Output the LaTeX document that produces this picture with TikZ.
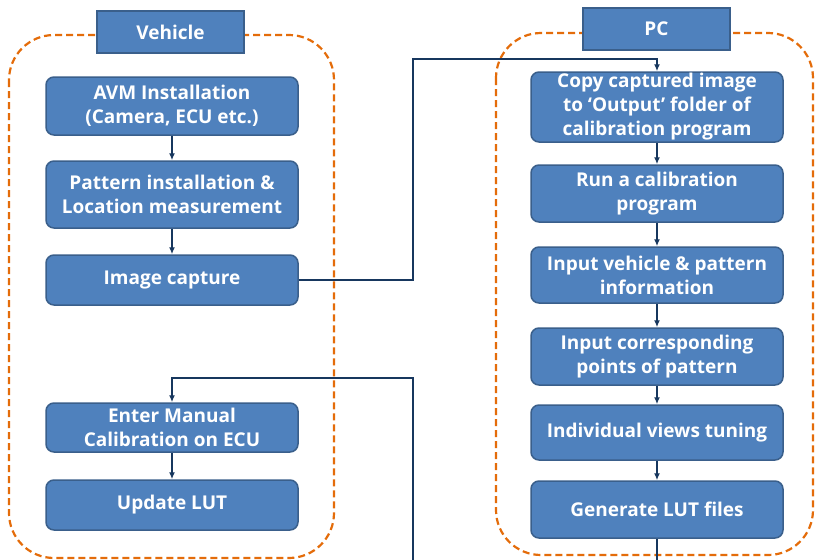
\documentclass[tikz,border=0pt]{standalone}
\usepackage{fontspec}
\setmainfont{Open Sans}
\usetikzlibrary{arrows.meta}
\definecolor{boxfill}{HTML}{4F81BD}
\definecolor{boxline}{HTML}{3A5F8B}
\definecolor{dashor}{HTML}{E46C0A}
\definecolor{connc}{HTML}{17375E}
\begin{document}
\begin{tikzpicture}[x=1pt,y=-1pt,
  stepbox/.style={rounded corners=8pt, fill=boxfill, draw=boxline, line width=1.5pt,
    text=white, align=center, inner sep=0pt, minimum width=252pt,
    font=\fontsize{19}{24}\selectfont\bfseries},
  headbox/.style={fill=boxfill, draw=boxline, line width=1.5pt, text=white,
    inner sep=0pt, minimum width=147pt, minimum height=42pt,
    font=\fontsize{19}{24}\selectfont\bfseries},
  group/.style={draw=dashor, line width=2.2pt, dash pattern=on 7pt off 4pt, rounded corners=45pt},
  conn/.style={draw=connc, line width=1.8pt, -{Latex[length=7pt,width=6pt]}},
  plain/.style={draw=connc, line width=1.8pt}]
\useasboundingbox (0,0) rectangle (815,560);
\fill[white] (0,0) rectangle (815,560);
% containers
\draw[group] (9,35) rectangle (334,558);
\draw[group] (496,33) rectangle (813,555);
% headers
\node[headbox] (veh) at (170.5,32) {Vehicle};
\node[headbox] (pc) at (656.5,29) {PC};
% left boxes
\node[stepbox, minimum height=58pt] (avm) at (172,106) {AVM Installation\\(Camera, ECU etc.)};
\node[stepbox, minimum height=67pt] (pat) at (172,194.5) {Pattern installation \&\\Location measurement};
\node[stepbox, minimum height=50pt] (cap) at (172,280) {Image capture};
\node[stepbox, minimum height=49pt] (ent) at (172,427.5) {Enter Manual\\Calibration on ECU};
\node[stepbox, minimum height=50pt] (upd) at (172,505) {Update LUT};
% right boxes
\node[stepbox, minimum height=70pt] (copy) at (657,107) {Copy captured image\\to ‘Output’ folder of\\calibration program};
\node[stepbox, minimum height=57pt] (run) at (657,193.5) {Run a calibration\\program};
\node[stepbox, minimum height=56pt] (inv) at (657,275) {Input vehicle \& pattern\\information};
\node[stepbox, minimum height=57pt] (inc) at (657,356.5) {Input corresponding\\points of pattern};
\node[stepbox, minimum height=55pt] (ind) at (657,432.5) {Individual views tuning};
\node[stepbox, minimum height=57pt] (gen) at (657,509.5) {Generate LUT files};
% coordinates
\coordinate (j1) at (413,59);
\coordinate (j2) at (413,378);
\coordinate (b1) at (413,560);
\coordinate (b2) at (657,560);
% connectors
\draw[conn] (avm) -- (pat);
\draw[conn] (pat) -- (cap);
\draw[conn] (ent) -- (upd);
\draw[conn] (copy) -- (run);
\draw[conn] (run) -- (inv);
\draw[conn] (inv) -- (inc);
\draw[conn] (inc) -- (ind);
\draw[conn] (ind) -- (gen);
\draw[conn] (cap.east) -| (j1) -| (copy.north);
\draw[conn] (b1) -- (j2) -| (ent.north);
\draw[plain] (gen.south) -- (b2);
\end{tikzpicture}
\end{document}
